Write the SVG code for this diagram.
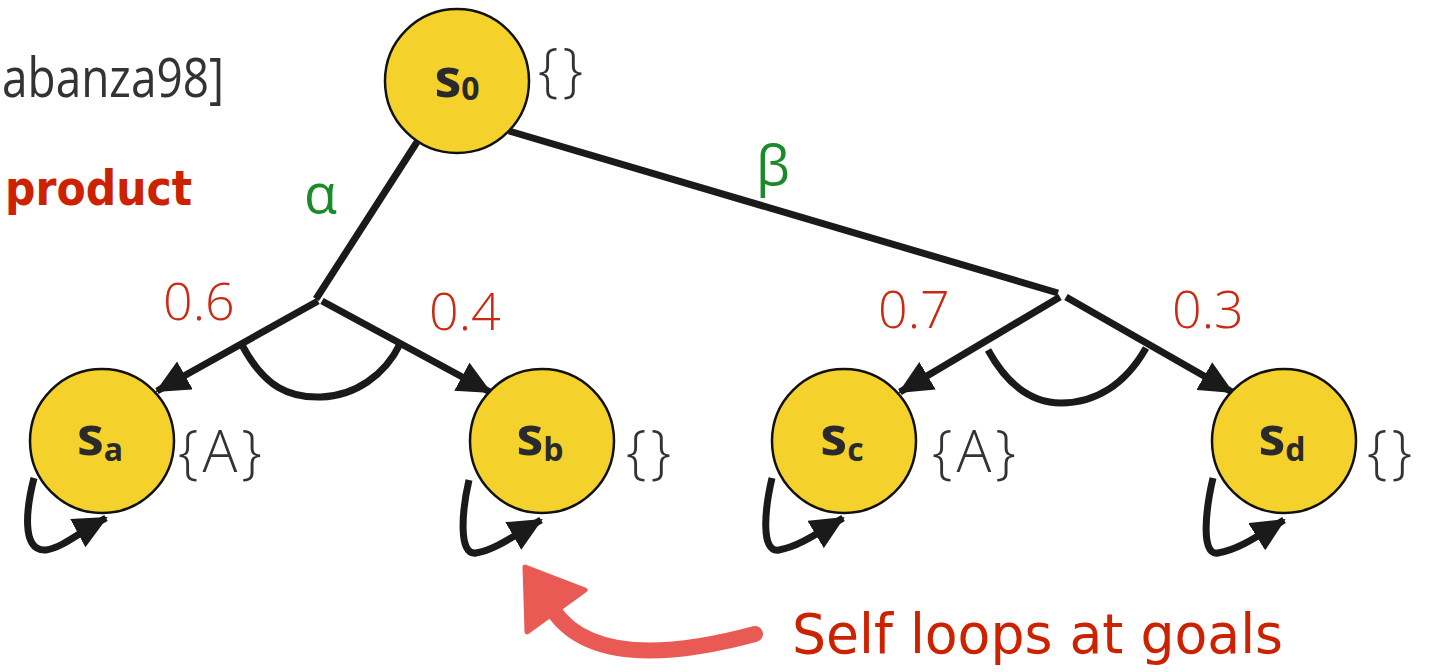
<svg xmlns="http://www.w3.org/2000/svg" width="1433" height="672" viewBox="0 0 1433 672">
<defs>
<style>
.node circle{fill:#f4d22b;stroke:#111;stroke-width:2.5}
.nl{font-family:"Open Sans","DejaVu Sans",sans-serif;font-weight:700;fill:#2a2a2a;font-size:54px;text-anchor:middle}
.sub{font-size:32px}
.set{font-family:"Open Sans","DejaVu Sans",sans-serif;font-weight:300;fill:#333;font-size:58px;letter-spacing:4px}
.prob{font-family:"Open Sans","DejaVu Sans",sans-serif;font-weight:300;fill:#cc2a10;font-size:52px}
.act{font-family:"Open Sans","DejaVu Sans",sans-serif;font-weight:400;fill:#1a8a2a;font-size:54px}
.edge{stroke:#1a1a1a;stroke-width:7;fill:none}
.arr{marker-end:url(#ah)}
.hand{font-family:"DejaVu Sans",sans-serif;fill:#cc2200}
</style>
<marker id="ah" markerUnits="userSpaceOnUse" viewBox="0 0 34 32" refX="32" refY="16" markerWidth="34" markerHeight="32" orient="auto">
<path d="M0,0 L34,16 L0,32 Z" fill="#1a1a1a"/>
</marker>
</defs>
<rect width="1433" height="672" fill="#fff"/>

<text x="2" y="97" font-family="Open Sans, DejaVu Sans, sans-serif" font-weight="400" font-size="54" fill="#333" textLength="222" lengthAdjust="spacingAndGlyphs">abanza98]</text>
<text class="hand" x="5" y="205" font-size="48" font-weight="700" textLength="187" lengthAdjust="spacingAndGlyphs">product</text>

<g id="connectors">
<line class="edge" x1="417" y1="142" x2="316" y2="299"/>
<line class="edge" x1="509" y1="131" x2="1058" y2="293"/>
<line class="edge arr" x1="318" y1="301" x2="157" y2="391"/>
<line class="edge arr" x1="322" y1="301" x2="490" y2="392"/>
<line class="edge arr" x1="1060" y1="297" x2="900" y2="392"/>
<line class="edge arr" x1="1066" y1="297" x2="1232" y2="392"/>
<path class="edge" d="M242,345 C265,388 290,398 321,397 C355,396 385,375 400,344"/>
<path class="edge" d="M988,350 C1010,390 1035,403 1061,403 C1095,403 1125,385 1146,348"/>
<path class="edge arr" d="M34,478 C27,505 20,552 46,550 C62,548 80,532 106,518"/>
<path class="edge arr" d="M469,480 C462,510 458,556 476,553 C495,550 515,535 541,520"/>
<path class="edge arr" d="M772,478 C765,508 760,553 779,550 C798,547 818,533 843,518"/>
<path class="edge arr" d="M1213,478 C1206,508 1200,556 1218,553 C1238,550 1258,536 1284,520"/>
</g>

<text class="act" x="304" y="213">α</text>
<text class="act" x="756" y="185">β</text>
<text class="prob" x="163" y="320">0.6</text>
<text class="prob" x="429" y="330">0.4</text>
<text class="prob" x="878" y="328">0.7</text>
<text class="prob" x="1172" y="328">0.3</text>

<g id="s0" class="node">
<circle cx="457" cy="81" r="72"/>
<text class="nl" x="457" y="97">s<tspan class="sub" dy="3">0</tspan></text>
<text class="set" x="538" y="90">{}</text>
</g>
<g id="sa" class="node">
<circle cx="102" cy="441" r="72"/>
<text class="nl" x="100" y="455">s<tspan class="sub" dy="6">a</tspan></text>
<text class="set" x="178" y="472">{A}</text>
</g>
<g id="sb" class="node">
<circle cx="542" cy="441" r="72"/>
<text class="nl" x="540" y="455">s<tspan class="sub" dy="6">b</tspan></text>
<text class="set" x="626" y="472">{}</text>
</g>
<g id="sc" class="node">
<circle cx="844" cy="441" r="72"/>
<text class="nl" x="842" y="455">s<tspan class="sub" dy="6">c</tspan></text>
<text class="set" x="932" y="472">{A}</text>
</g>
<g id="sd" class="node">
<circle cx="1284" cy="441" r="72"/>
<text class="nl" x="1282" y="455">s<tspan class="sub" dy="6">d</tspan></text>
<text class="set" x="1367" y="472">{}</text>
</g>

<g id="note">
<path d="M553,610 C580,650 640,665 755,634" fill="none" stroke="#ea5a55" stroke-width="16" stroke-linecap="round"/>
<path d="M525,567 L527,632 L585,590 Z" fill="#ea5a55" stroke="#ea5a55" stroke-width="5" stroke-linejoin="round"/>
<text class="hand" x="792" y="653" font-size="56" textLength="491" lengthAdjust="spacingAndGlyphs">Self loops at goals</text>
</g>
</svg>
